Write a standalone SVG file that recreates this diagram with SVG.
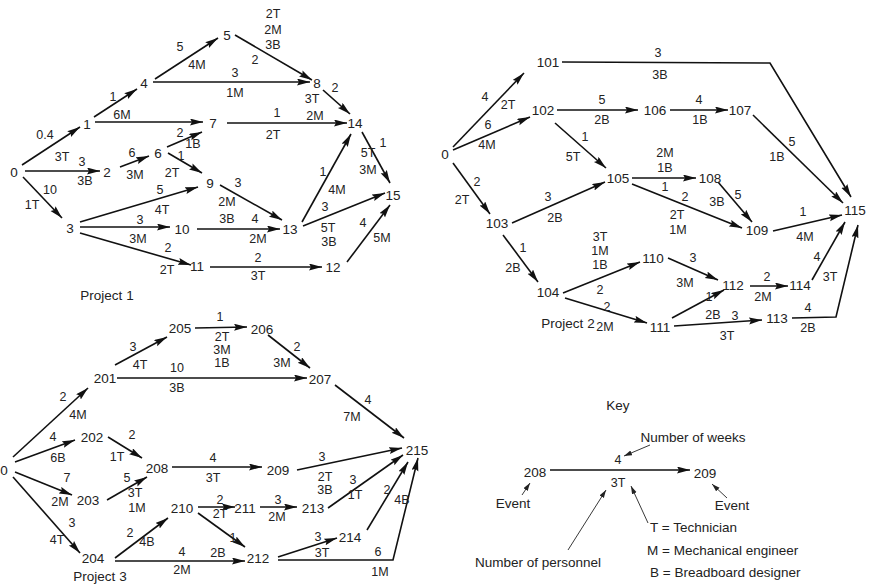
<svg xmlns="http://www.w3.org/2000/svg" width="872" height="584" viewBox="0 0 872 584">
<style>
text{font-family:"Liberation Sans",Arial,sans-serif;fill:#222;text-anchor:middle;dominant-baseline:central}
.n{font-size:13.5px}
.l{font-size:12.5px}
.k{font-size:13.5px}
.kl{font-size:13.5px;text-anchor:start}
.e{stroke:#111;stroke-width:1.6;fill:none;marker-end:url(#ah)}
.a{stroke:#222;stroke-width:0.9;fill:none;marker-end:url(#sh)}
</style>
<defs>
<marker id="ah" markerUnits="userSpaceOnUse" markerWidth="14" markerHeight="8" refX="13" refY="3.5" orient="auto"><path d="M0,0 L13,3.5 L0,7 L2,3.5 z" fill="#111"/></marker>
<marker id="sh" markerUnits="userSpaceOnUse" markerWidth="9" markerHeight="6" refX="8" refY="2.5" orient="auto"><path d="M0,0 L8,2.5 L0,5 z" fill="#222"/></marker>
</defs>
<rect width="872" height="584" fill="#fff"/>

<g id="connectors">
<!-- Project 1 -->
<line class="e" x1="22" y1="165" x2="80" y2="127"/>
<line class="e" x1="94" y1="117" x2="137" y2="89"/>
<line class="e" x1="95" y1="122" x2="203" y2="122"/>
<line class="e" x1="155" y1="79" x2="218" y2="38"/>
<line class="e" x1="153" y1="82" x2="310" y2="82"/>
<line class="e" x1="235" y1="35" x2="312" y2="80"/>
<line class="e" x1="323" y1="90" x2="350" y2="114"/>
<line class="e" x1="227" y1="123" x2="347" y2="123"/>
<line class="e" x1="25" y1="171" x2="100" y2="171"/>
<line class="e" x1="23" y1="177" x2="62" y2="218"/>
<line class="e" x1="120" y1="167" x2="149" y2="156"/>
<line class="e" x1="167" y1="147" x2="202" y2="132"/>
<line class="e" x1="168" y1="153" x2="202" y2="173"/>
<line class="e" x1="80" y1="222" x2="198" y2="187"/>
<line class="e" x1="80" y1="227" x2="170" y2="227"/>
<line class="e" x1="80" y1="233" x2="191" y2="265"/>
<line class="e" x1="220" y1="185" x2="282" y2="220"/>
<line class="e" x1="197" y1="229" x2="280" y2="229"/>
<line class="e" x1="210" y1="267" x2="322" y2="267"/>
<line class="e" x1="302" y1="222" x2="351" y2="134"/>
<line class="e" x1="303" y1="226" x2="385" y2="193"/>
<line class="e" x1="347" y1="262" x2="390" y2="205"/>
<line class="e" x1="362" y1="132" x2="390" y2="183"/>
<!-- Project 2 -->
<line class="e" x1="453" y1="147" x2="524" y2="73"/>
<line class="e" x1="453" y1="150" x2="530" y2="117"/>
<polyline class="e" points="562,62 770,63 851,197"/>
<line class="e" x1="557" y1="110" x2="638" y2="110"/>
<line class="e" x1="670" y1="110" x2="728" y2="110"/>
<line class="e" x1="753" y1="115" x2="843" y2="203"/>
<line class="e" x1="555" y1="123" x2="606" y2="168"/>
<line class="e" x1="453" y1="163" x2="490" y2="214"/>
<line class="e" x1="512" y1="223" x2="605" y2="182"/>
<line class="e" x1="503" y1="235" x2="538" y2="282"/>
<line class="e" x1="632" y1="178" x2="696" y2="178"/>
<line class="e" x1="632" y1="184" x2="742" y2="228"/>
<line class="e" x1="718" y1="182" x2="752" y2="222"/>
<line class="e" x1="773" y1="231" x2="842" y2="215"/>
<line class="e" x1="563" y1="293" x2="640" y2="262"/>
<line class="e" x1="668" y1="258" x2="718" y2="280"/>
<line class="e" x1="750" y1="286" x2="788" y2="286"/>
<line class="e" x1="812" y1="280" x2="845" y2="222"/>
<line class="e" x1="565" y1="298" x2="647" y2="323"/>
<line class="e" x1="672" y1="318" x2="724" y2="290"/>
<line class="e" x1="674" y1="326" x2="762" y2="320"/>
<polyline class="e" points="792,318 836,317 858,225"/>
<!-- Project 3 -->
<line class="e" x1="13" y1="457" x2="88" y2="388"/>
<line class="e" x1="15" y1="462" x2="75" y2="440"/>
<line class="e" x1="15" y1="472" x2="72" y2="495"/>
<line class="e" x1="13" y1="477" x2="80" y2="553"/>
<line class="e" x1="115" y1="365" x2="167" y2="337"/>
<line class="e" x1="117" y1="378" x2="307" y2="378"/>
<line class="e" x1="195" y1="328" x2="247" y2="327"/>
<line class="e" x1="268" y1="335" x2="310" y2="368"/>
<line class="e" x1="335" y1="385" x2="404" y2="438"/>
<line class="e" x1="108" y1="437" x2="142" y2="458"/>
<line class="e" x1="107" y1="500" x2="147" y2="477"/>
<line class="e" x1="172" y1="467" x2="262" y2="467"/>
<line class="e" x1="297" y1="470" x2="402" y2="448"/>
<line class="e" x1="198" y1="507" x2="235" y2="507"/>
<line class="e" x1="260" y1="507" x2="297" y2="507"/>
<line class="e" x1="328" y1="508" x2="403" y2="455"/>
<line class="e" x1="198" y1="513" x2="245" y2="547"/>
<line class="e" x1="115" y1="558" x2="168" y2="518"/>
<line class="e" x1="115" y1="561" x2="245" y2="561"/>
<line class="e" x1="278" y1="557" x2="337" y2="538"/>
<line class="e" x1="367" y1="530" x2="408" y2="462"/>
<polyline class="e" points="278,560 393,560 418,458"/>
<!-- Key -->
<line class="e" x1="550" y1="470" x2="690" y2="470"/>
<line class="a" x1="650" y1="445" x2="624" y2="456"/>
<line class="a" x1="522" y1="495" x2="530" y2="483"/>
<line class="a" x1="727" y1="498" x2="712" y2="484"/>
<line class="a" x1="568" y1="550" x2="606" y2="490"/>
<line class="a" x1="648" y1="523" x2="631" y2="486"/>
</g>

<g id="edge-labels">
<!-- Project 1 -->
<text class="l" x="45" y="135">0.4</text><text class="l" x="62" y="157">3T</text>
<text class="l" x="113" y="97">1</text>
<text class="l" x="122" y="115">6M</text>
<text class="l" x="180" y="47">5</text><text class="l" x="197" y="65">4M</text>
<text class="l" x="235" y="73">3</text><text class="l" x="235" y="93">1M</text>
<text class="l" x="255" y="60">2</text><text class="l" x="273" y="14">2T</text><text class="l" x="273" y="30">2M</text><text class="l" x="273" y="45">3B</text>
<text class="l" x="335" y="88">2</text><text class="l" x="312" y="99">3T</text><text class="l" x="315" y="116">2M</text>
<text class="l" x="277" y="113">1</text><text class="l" x="273" y="135">2T</text>
<text class="l" x="82" y="162">3</text><text class="l" x="85" y="181">3B</text>
<text class="l" x="50" y="190">10</text><text class="l" x="32" y="205">1T</text>
<text class="l" x="132" y="153">6</text><text class="l" x="135" y="175">3M</text>
<text class="l" x="180" y="133">2</text><text class="l" x="193" y="144">1B</text>
<text class="l" x="181" y="156">1</text><text class="l" x="172" y="173">2T</text>
<text class="l" x="160" y="190">5</text><text class="l" x="162" y="210">4T</text>
<text class="l" x="140" y="220">3</text><text class="l" x="138" y="239">3M</text>
<text class="l" x="168" y="248">2</text><text class="l" x="167" y="270">2T</text>
<text class="l" x="238" y="183">3</text><text class="l" x="227" y="202">2M</text><text class="l" x="227" y="219">3B</text>
<text class="l" x="255" y="219">4</text><text class="l" x="258" y="239">2M</text>
<text class="l" x="258" y="258">2</text><text class="l" x="258" y="276">3T</text>
<text class="l" x="323" y="172">1</text><text class="l" x="337" y="190">4M</text>
<text class="l" x="325" y="207">3</text><text class="l" x="328" y="228">5T</text><text class="l" x="329" y="242">3B</text>
<text class="l" x="363" y="223">4</text><text class="l" x="382" y="238">5M</text>
<text class="l" x="383" y="143">1</text><text class="l" x="368" y="153">5T</text><text class="l" x="368" y="170">3M</text>
<!-- Project 2 -->
<text class="l" x="485" y="97">4</text><text class="l" x="508" y="105">2T</text>
<text class="l" x="488" y="125">6</text><text class="l" x="487" y="145">4M</text>
<text class="l" x="658" y="53">3</text><text class="l" x="660" y="75">3B</text>
<text class="l" x="602" y="100">5</text><text class="l" x="602" y="120">2B</text>
<text class="l" x="699" y="100">4</text><text class="l" x="700" y="120">1B</text>
<text class="l" x="792" y="142">5</text><text class="l" x="777" y="157">1B</text>
<text class="l" x="585" y="137">1</text><text class="l" x="573" y="157">5T</text>
<text class="l" x="477" y="182">2</text><text class="l" x="462" y="200">2T</text>
<text class="l" x="548" y="197">3</text><text class="l" x="555" y="218">2B</text>
<text class="l" x="523" y="248">1</text><text class="l" x="513" y="268">2B</text>
<text class="l" x="665" y="153">2M</text><text class="l" x="665" y="168">1B</text><text class="l" x="665" y="187">1</text>
<text class="l" x="685" y="197">2</text><text class="l" x="677" y="215">2T</text><text class="l" x="678" y="230">1M</text>
<text class="l" x="738" y="195">5</text><text class="l" x="717" y="202">3B</text>
<text class="l" x="803" y="212">1</text><text class="l" x="805" y="237">4M</text>
<text class="l" x="600" y="290">2</text><text class="l" x="600" y="237">3T</text><text class="l" x="600" y="251">1M</text><text class="l" x="600" y="265">1B</text>
<text class="l" x="693" y="258">3</text><text class="l" x="685" y="283">3M</text>
<text class="l" x="767" y="277">2</text><text class="l" x="763" y="297">2M</text>
<text class="l" x="817" y="257">4</text><text class="l" x="830" y="277">3T</text>
<text class="l" x="607" y="307">2</text><text class="l" x="605" y="327">2M</text>
<text class="l" x="709" y="297">1</text><text class="l" x="713" y="315">2B</text>
<text class="l" x="735" y="316">3</text><text class="l" x="727" y="336">3T</text>
<text class="l" x="808" y="308">4</text><text class="l" x="808" y="328">2B</text>
<!-- Project 3 -->
<text class="l" x="63" y="397">2</text><text class="l" x="78" y="415">4M</text>
<text class="l" x="53" y="437">4</text><text class="l" x="58" y="458">6B</text>
<text class="l" x="67" y="478">7</text><text class="l" x="60" y="502">2M</text>
<text class="l" x="72" y="523">3</text><text class="l" x="57" y="540">4T</text>
<text class="l" x="133" y="347">3</text><text class="l" x="140" y="365">4T</text>
<text class="l" x="177" y="368">10</text><text class="l" x="177" y="388">3B</text>
<text class="l" x="220" y="317">1</text><text class="l" x="222" y="337">2T</text><text class="l" x="222" y="350">3M</text><text class="l" x="222" y="363">1B</text>
<text class="l" x="297" y="347">2</text><text class="l" x="282" y="363">3M</text>
<text class="l" x="368" y="400">4</text><text class="l" x="352" y="417">7M</text>
<text class="l" x="132" y="435">2</text><text class="l" x="117" y="457">1T</text>
<text class="l" x="127" y="478">5</text><text class="l" x="135" y="493">3T</text><text class="l" x="137" y="508">1M</text>
<text class="l" x="213" y="458">4</text><text class="l" x="213" y="478">3T</text>
<text class="l" x="322" y="457">3</text><text class="l" x="325" y="477">2T</text><text class="l" x="325" y="490">3B</text>
<text class="l" x="220" y="500">2</text><text class="l" x="220" y="514">2T</text>
<text class="l" x="278" y="500">3</text><text class="l" x="277" y="517">2M</text>
<text class="l" x="353" y="480">3</text><text class="l" x="355" y="495">1T</text>
<text class="l" x="233" y="538">1</text><text class="l" x="218" y="553">2B</text>
<text class="l" x="130" y="533">2</text><text class="l" x="147" y="542">4B</text>
<text class="l" x="182" y="552">4</text><text class="l" x="182" y="570">2M</text>
<text class="l" x="318" y="537">3</text><text class="l" x="322" y="553">3T</text>
<text class="l" x="387" y="490">2</text><text class="l" x="402" y="500">4B</text>
<text class="l" x="378" y="552">6</text><text class="l" x="380" y="572">1M</text>
</g>

<g id="p1-n0"><text class="n" x="14" y="172">0</text></g>
<g id="p1-n1"><text class="n" x="87" y="124">1</text></g>
<g id="p1-n2"><text class="n" x="107" y="172">2</text></g>
<g id="p1-n3"><text class="n" x="70" y="228">3</text></g>
<g id="p1-n4"><text class="n" x="144" y="83">4</text></g>
<g id="p1-n5"><text class="n" x="227" y="35">5</text></g>
<g id="p1-n6"><text class="n" x="158" y="153">6</text></g>
<g id="p1-n7"><text class="n" x="213" y="123">7</text></g>
<g id="p1-n8"><text class="n" x="317" y="83">8</text></g>
<g id="p1-n9"><text class="n" x="210" y="183">9</text></g>
<g id="p1-n10"><text class="n" x="182" y="229">10</text></g>
<g id="p1-n11"><text class="n" x="197" y="266">11</text></g>
<g id="p1-n12"><text class="n" x="333" y="267">12</text></g>
<g id="p1-n13"><text class="n" x="290" y="229">13</text></g>
<g id="p1-n14"><text class="n" x="355" y="123">14</text></g>
<g id="p1-n15"><text class="n" x="393" y="195">15</text></g>
<g id="p1-title"><text class="k" x="107" y="295">Project 1</text></g>

<g id="p2-n0"><text class="n" x="445" y="154">0</text></g>
<g id="p2-n101"><text class="n" x="548" y="62">101</text></g>
<g id="p2-n102"><text class="n" x="543" y="110">102</text></g>
<g id="p2-n103"><text class="n" x="497" y="223">103</text></g>
<g id="p2-n104"><text class="n" x="548" y="292">104</text></g>
<g id="p2-n105"><text class="n" x="618" y="178">105</text></g>
<g id="p2-n106"><text class="n" x="655" y="110">106</text></g>
<g id="p2-n107"><text class="n" x="740" y="110">107</text></g>
<g id="p2-n108"><text class="n" x="710" y="178">108</text></g>
<g id="p2-n109"><text class="n" x="757" y="230">109</text></g>
<g id="p2-n110"><text class="n" x="653" y="258">110</text></g>
<g id="p2-n111"><text class="n" x="660" y="327">111</text></g>
<g id="p2-n112"><text class="n" x="733" y="285">112</text></g>
<g id="p2-n113"><text class="n" x="777" y="318">113</text></g>
<g id="p2-n114"><text class="n" x="800" y="285">114</text></g>
<g id="p2-n115"><text class="n" x="855" y="210">115</text></g>
<g id="p2-title"><text class="k" x="568" y="323">Project 2</text></g>

<g id="p3-n0"><text class="n" x="4" y="470">0</text></g>
<g id="p3-n201"><text class="n" x="105" y="378">201</text></g>
<g id="p3-n202"><text class="n" x="92" y="437">202</text></g>
<g id="p3-n203"><text class="n" x="88" y="500">203</text></g>
<g id="p3-n204"><text class="n" x="93" y="558">204</text></g>
<g id="p3-n205"><text class="n" x="180" y="328">205</text></g>
<g id="p3-n206"><text class="n" x="262" y="329">206</text></g>
<g id="p3-n207"><text class="n" x="320" y="379">207</text></g>
<g id="p3-n208"><text class="n" x="157" y="468">208</text></g>
<g id="p3-n209"><text class="n" x="278" y="470">209</text></g>
<g id="p3-n210"><text class="n" x="182" y="508">210</text></g>
<g id="p3-n211"><text class="n" x="245" y="508">211</text></g>
<g id="p3-n212"><text class="n" x="258" y="558">212</text></g>
<g id="p3-n213"><text class="n" x="313" y="508">213</text></g>
<g id="p3-n214"><text class="n" x="350" y="537">214</text></g>
<g id="p3-n215"><text class="n" x="417" y="450">215</text></g>
<g id="p3-title"><text class="k" x="100" y="576">Project 3</text></g>

<g id="key">
<text class="k" x="618" y="405">Key</text>
<text class="k" x="693" y="437">Number of weeks</text>
<text class="l" x="618" y="460">4</text>
<text class="n" x="535" y="472">208</text>
<text class="n" x="705" y="473">209</text>
<text class="l" x="618" y="483">3T</text>
<text class="k" x="513" y="503">Event</text>
<text class="k" x="732" y="505">Event</text>
<text class="k" x="538" y="562">Number of personnel</text>
<text class="kl" x="650" y="527">T = Technician</text>
<text class="kl" x="647" y="550">M = Mechanical engineer</text>
<text class="kl" x="650" y="572">B = Breadboard designer</text>
</g>
</svg>
